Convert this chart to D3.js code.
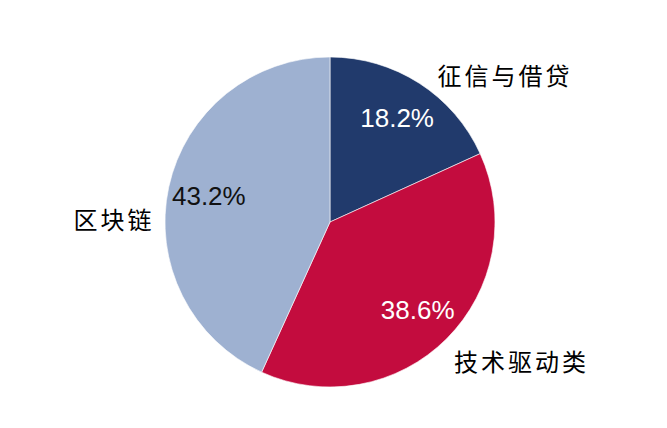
<!DOCTYPE html>
<html><head><meta charset="utf-8">
<script src="https://cdn.jsdelivr.net/npm/d3@7"></script>
<style>html,body{margin:0;padding:0;background:#fff;}svg{display:block;}</style>
</head><body>
<svg id="chart" width="667" height="428"></svg>
<script>
const categories = ["征信与借贷", "技术驱动类", "区块链"];
const values = [18.2, 38.6, 43.2];
const valueLabels = ["18.2%", "38.6%", "43.2%"];
const colors = ["#213a6c", "#c30c3e", "#9eb1d1"];
const pctColors = ["#ffffff", "#ffffff", "#111111"];

const svg = d3.select("#chart");
const cx = 330, cy = 222, R = 165;
const g = svg.append("g").attr("transform", `translate(${cx},${cy})`);

const pie = d3.pie().sort(null).value(d => d)(values);
const arc = d3.arc().innerRadius(0).outerRadius(R);

g.selectAll("path.slice").data(pie).join("path")
  .attr("class", "slice")
  .attr("d", arc)
  .attr("fill", (d, i) => colors[i])
  .attr("stroke", "#ffffff")
  .attr("stroke-width", 0.6);

// percentage labels on the mid-angle of each slice
const labelArc = d3.arc().innerRadius(124).outerRadius(124);
g.selectAll("text.pct").data(pie).join("text")
  .attr("class", "pct")
  .attr("transform", d => `translate(${labelArc.centroid(d)})`)
  .attr("text-anchor", "middle")
  .attr("dominant-baseline", "central")
  .attr("font-family", "Liberation Sans, Arial, sans-serif")
  .attr("font-size", 26)
  .attr("fill", (d, i) => pctColors[i])
  .text((d, i) => valueLabels[i]);

// category labels outside the pie (polar placement)
const outer = [
  { a: 49.8, r: 229 },
  { a: 125.8, r: 236 },
  { a: 271, r: 216 }
];
g.selectAll("text.cat").data(pie).join("text")
  .attr("class", "cat")
  .attr("transform", (d, i) => {
    const a = outer[i].a * Math.PI / 180;
    return `translate(${outer[i].r * Math.sin(a)},${-outer[i].r * Math.cos(a)})`;
  })
  .attr("text-anchor", "middle")
  .attr("dominant-baseline", "central")
  .attr("font-family", "Noto Sans CJK SC, sans-serif")
  .attr("font-size", 24)
  .attr("letter-spacing", 3)
  .attr("fill", "#000")
  .text((d, i) => categories[i]);
</script>
</body></html>
